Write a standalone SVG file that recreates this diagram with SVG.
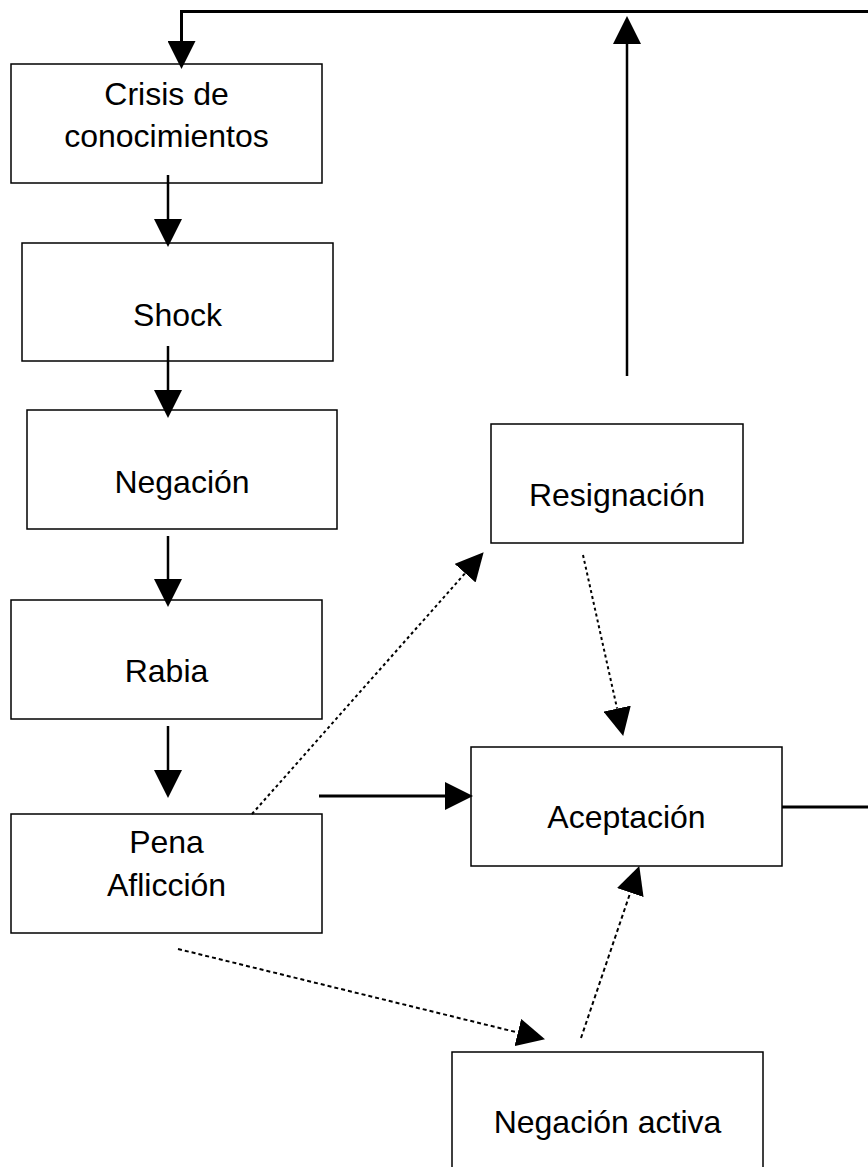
<svg xmlns="http://www.w3.org/2000/svg" width="868" height="1167" viewBox="0 0 868 1167">
<style>
.box{fill:#fff;stroke:#000;stroke-width:1.5}
.lbl{font-family:"Liberation Sans",Arial,sans-serif;font-size:32px;fill:#000;text-anchor:middle}
.solid{fill:none;stroke:#000;stroke-width:2.5}
.thick{fill:none;stroke:#000;stroke-width:3}
.dot{fill:none;stroke:#000;stroke-width:2;stroke-dasharray:3 3}
.dash{fill:none;stroke:#000;stroke-width:2;stroke-dasharray:4 3}
</style>
<defs>
<marker id="ah" markerUnits="userSpaceOnUse" markerWidth="28" markerHeight="28" viewBox="0 0 28 28" refX="0" refY="14" orient="auto">
<path d="M0,0 L28,14 L0,28 z" fill="#000"/>
</marker>
</defs>
<rect width="868" height="1167" fill="#fff"/>
<g id="n-crisis"><rect class="box" x="11" y="64" width="311" height="119"/><text class="lbl" x="166.5" y="105">Crisis de</text><text class="lbl" x="166.5" y="147">conocimientos</text></g>
<g id="n-shock"><rect class="box" x="22" y="243" width="311" height="118"/><text class="lbl" x="177.5" y="326">Shock</text></g>
<g id="n-negacion"><rect class="box" x="27" y="410" width="310" height="119"/><text class="lbl" x="182" y="493">Negación</text></g>
<g id="n-rabia"><rect class="box" x="11" y="600" width="311" height="119"/><text class="lbl" x="166.5" y="682">Rabia</text></g>
<g id="n-pena"><rect class="box" x="11" y="814" width="311" height="119"/><text class="lbl" x="166.5" y="853">Pena</text><text class="lbl" x="166.5" y="896">Aflicción</text></g>
<g id="n-resignacion"><rect class="box" x="491" y="424" width="252" height="119"/><text class="lbl" x="617" y="506">Resignación</text></g>
<g id="n-aceptacion"><rect class="box" x="471" y="747" width="311" height="119"/><text class="lbl" x="626.5" y="828">Aceptación</text></g>
<g id="n-negacion-activa"><rect class="box" x="452" y="1052" width="311" height="119"/><text class="lbl" x="607.5" y="1133">Negación activa</text></g>
<g id="connectors">
<path class="thick" d="M868,11.5 H181.5 V41" marker-end="url(#ah)"/>
<path class="solid" d="M168,175 V219" marker-end="url(#ah)"/>
<path class="solid" d="M168,346 V390" marker-end="url(#ah)"/>
<path class="solid" d="M168,536 V579" marker-end="url(#ah)"/>
<path class="solid" d="M168,726 V770" marker-end="url(#ah)"/>
<path class="thick" d="M319,796 H445" marker-end="url(#ah)"/>
<path class="solid" d="M627,376 V44" marker-end="url(#ah)"/>
<path class="thick" d="M782,807 H868"/>
<path class="dot" d="M252,814 L465.1,573.2" marker-end="url(#ah)"/>
<path class="dash" d="M178,949 L517.8,1032.5" marker-end="url(#ah)"/>
<path class="dot" d="M583,555 L617.1,708.6" marker-end="url(#ah)"/>
<path class="dash" d="M581,1038 L630.3,892.6" marker-end="url(#ah)"/>
</g>
</svg>
